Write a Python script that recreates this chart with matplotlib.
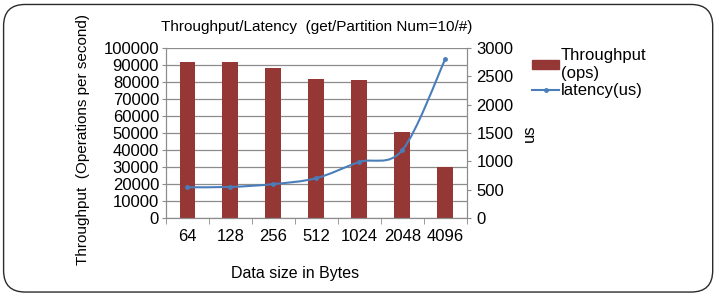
import numpy as np
import matplotlib
matplotlib.use('Agg')
from matplotlib import pyplot as plt
from matplotlib.patches import FancyBboxPatch
from matplotlib.path import Path
from matplotlib.patches import PathPatch
from matplotlib.lines import Line2D
from matplotlib.patches import Patch

plt.rcParams['font.family'] = ['Liberation Sans', 'DejaVu Sans']

# Data
sizes = ['64', '128', '256', '512', '1024', '2048', '4096']
throughput = [92000, 92000, 88000, 82000, 81000, 50500, 30000]
latency = [545, 550, 600, 705, 990, 1200, 2805]

bar_color = '#953735'
line_color = '#4A7EBB'
grid_color = '#8C8C8C'

fig = plt.figure(figsize=(7.17, 2.98), dpi=100)

# Rounded frame round the whole figure
frame = FancyBboxPatch((0.005, 0.02), 0.989, 0.965, boxstyle='round,pad=0,rounding_size=0.03',
                       transform=fig.transFigure, fill=False, edgecolor='#2b2b2b', linewidth=1.0,
                       mutation_aspect=717/298)
fig.patches.append(frame)

ax = fig.add_axes([0.2315, 0.268, 0.4195, 0.571])
x = np.arange(len(sizes))
ax.bar(x, throughput, width=0.37, color=bar_color, zorder=2)
ax.set_xlim(-0.5, len(sizes) - 0.5)
ax.set_ylim(0, 100000)
ax.set_yticks(np.arange(0, 100001, 10000))
ax.yaxis.grid(True, color=grid_color, linewidth=0.9, zorder=0)
ax.set_axisbelow(True)
ax.set_xticks(x)
ax.set_xticklabels(sizes)
ax.tick_params(axis='x', length=0, pad=8, labelsize=12)
ax.set_xticks(np.arange(-0.5, len(sizes)), minor=True)
ax.tick_params(axis='x', which='minor', length=4, color=grid_color, direction='out')
ax.tick_params(axis='y', length=3, color=grid_color, labelsize=12, pad=2)
for s in ['left', 'right', 'bottom']:
    ax.spines[s].set_color(grid_color)
ax.spines['top'].set_visible(False)
ax.set_xlabel('Data size in Bytes', fontsize=11.5, labelpad=16, x=0.43)
ax.set_ylabel('Throughput  (Operations per second)', fontsize=11, labelpad=10, y=0.46)
ax.set_title('Throughput/Latency  (get/Partition Num=10/#)', fontsize=11, pad=12, x=0.5)

ax2 = ax.twinx()
ax2.set_ylim(0, 3000)
ax2.set_yticks(np.arange(0, 3001, 500))
ax2.tick_params(axis='y', length=3, color=grid_color, labelsize=12, pad=4)
for s in ['left', 'right', 'bottom']:
    ax2.spines[s].set_color(grid_color)
ax2.spines['top'].set_visible(False)
ax2.set_ylabel('us', fontsize=12, labelpad=6)

# Smoothed line like the spreadsheet chart (Catmull-Rom through the points)
pts = np.column_stack([x, latency]).astype(float)
verts = [pts[0]]
codes = [Path.MOVETO]
for i in range(len(pts) - 1):
    p0 = pts[i - 1] if i > 0 else pts[i]
    p1 = pts[i]
    p2 = pts[i + 1]
    p3 = pts[i + 2] if i + 2 < len(pts) else pts[i + 1]
    c1 = p1 + (p2 - p0) / 6.0
    c2 = p2 - (p3 - p1) / 6.0
    verts += [c1, c2, p2]
    codes += [Path.CURVE4] * 3
ax2.add_patch(PathPatch(Path(verts, codes), fill=False, edgecolor=line_color, linewidth=1.5, zorder=3))
ax2.plot(x, latency, linestyle='none', marker='o', markersize=2.5, color=line_color, zorder=4)

handles = [Patch(facecolor=bar_color, edgecolor=bar_color),
           Line2D([0], [0], color=line_color, linewidth=1.5, marker='o', markersize=2.5)]
fig.legend(handles, ['Throughput\n(ops)', 'latency(us)'], loc='upper left',
           bbox_to_anchor=(0.733, 0.86), frameon=False, fontsize=12,
           handlelength=1.6, handleheight=0.5, handletextpad=0.1, labelspacing=0.15, borderaxespad=0)

fig.savefig('out.png', dpi=100)
